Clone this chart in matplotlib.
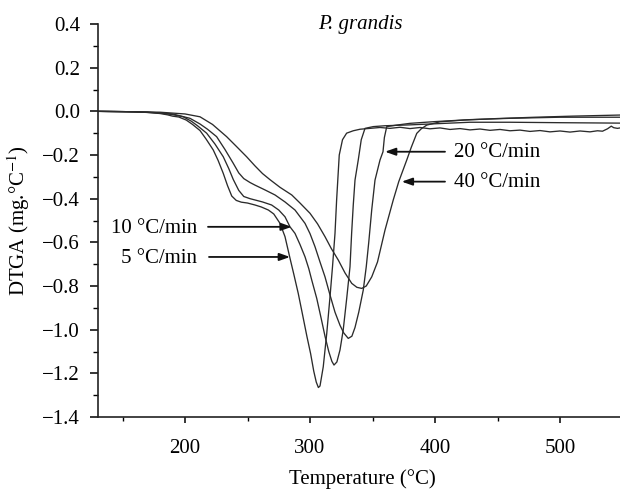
import matplotlib
matplotlib.use("Agg")
import matplotlib.pyplot as plt
from matplotlib.ticker import MultipleLocator, FixedLocator

plt.rcParams['font.family'] = ['Liberation Serif', 'DejaVu Serif']
plt.rcParams['mathtext.fontset'] = 'stix'
plt.rcParams['axes.unicode_minus'] = True

# ---- data ----
T5 = [130, 150, 170, 180, 186, 190, 195, 201, 206, 212, 217, 222.6, 226.5, 230.6, 234, 237.4,
      241, 245, 250, 256, 261, 266.7, 271, 276, 280, 284, 287, 290.6, 294, 297.5, 300.5, 303,
      305, 306.7, 308, 310.6, 313.4, 316, 318, 320, 321.3, 323.4, 326, 329.3, 334.6, 340,
      348, 356, 364, 372, 380, 388, 396, 404, 412, 420, 428, 436, 444, 452, 460, 468, 476,
      484, 492, 500, 508, 516, 524, 530, 534, 538, 541, 543, 546, 548]
D5 = [0.000, -0.001, -0.005, -0.010, -0.016, -0.022, -0.026, -0.040, -0.060, -0.088, -0.128,
      -0.177, -0.225, -0.284, -0.340, -0.388, -0.408, -0.416, -0.420, -0.429, -0.438, -0.452,
      -0.470, -0.513, -0.574, -0.673, -0.745, -0.834, -0.930, -1.030, -1.110, -1.190, -1.240,
      -1.265, -1.258, -1.170, -1.017, -0.850, -0.712, -0.559, -0.406, -0.200, -0.130, -0.100,
      -0.089, -0.082, -0.078, -0.074, -0.078, -0.073, -0.079, -0.074, -0.080, -0.076, -0.083,
      -0.079, -0.085, -0.081, -0.087, -0.083, -0.089, -0.086, -0.092, -0.088, -0.094, -0.090,
      -0.095, -0.090, -0.094, -0.089, -0.091, -0.080, -0.068, -0.075, -0.078, -0.076]

T10 = [130, 160, 180, 190, 198.6, 205, 210, 217.3, 224, 230.6, 235, 238.6, 243, 247, 252, 256,
       262, 269.3, 275, 280, 284, 288, 292, 296, 299, 301.4, 305.4, 309, 312, 315, 317.5,
       319.2, 321.5, 324, 326.6, 329.4, 332, 333.3, 334.6, 336, 338.6, 341, 344, 350.6, 360,
       370, 380, 396, 412, 428, 460, 500, 548]
D10 = [0.000, -0.002, -0.008, -0.015, -0.025, -0.045, -0.066, -0.100, -0.150, -0.208, -0.262,
       -0.312, -0.362, -0.390, -0.400, -0.406, -0.415, -0.429, -0.452, -0.483, -0.529, -0.559,
       -0.610, -0.666, -0.720, -0.773, -0.857, -0.950, -1.030, -1.100, -1.145, -1.162, -1.148,
       -1.093, -1.000, -0.855, -0.712, -0.559, -0.430, -0.315, -0.223, -0.130, -0.078, -0.070,
       -0.066, -0.064, -0.062, -0.058, -0.054, -0.050, -0.050, -0.052, -0.054]

T20 = [130, 170, 190, 204, 212, 218, 225.3, 232, 238.6, 243, 247, 252, 256, 264, 272, 280,
       288, 296, 300, 304, 308, 312, 316, 320, 324, 327, 330.6, 333.5, 336, 339, 342.6, 345,
       347, 349.4, 352, 356, 358.4, 359.5, 361.4, 369.4, 380, 400, 428, 460, 500, 548]
D20 = [0.000, -0.003, -0.012, -0.032, -0.058, -0.082, -0.116, -0.175, -0.238, -0.282, -0.308,
       -0.326, -0.338, -0.360, -0.383, -0.415, -0.452, -0.513, -0.560, -0.620, -0.690, -0.758,
       -0.841, -0.920, -0.980, -1.015, -1.040, -1.030, -0.990, -0.920, -0.819, -0.712, -0.600,
       -0.450, -0.315, -0.223, -0.185, -0.120, -0.070, -0.063, -0.055, -0.047, -0.038, -0.032,
       -0.027, -0.027]

T40 = [130, 180, 200, 212, 222, 233.3, 241, 249.3, 256, 262, 268, 276, 285.4, 292, 300, 306,
       312, 317, 322.6, 328, 333.4, 337.5, 341.4, 345, 349.4, 354, 360, 366.6, 371, 377.4, 381,
       385.4, 389, 393.4, 404, 423, 450, 480, 510, 548]
D40 = [0.000, -0.004, -0.012, -0.025, -0.060, -0.116, -0.160, -0.208, -0.250, -0.285, -0.313,
       -0.348, -0.383, -0.420, -0.467, -0.515, -0.574, -0.628, -0.681, -0.740, -0.788, -0.806,
       -0.811, -0.800, -0.758, -0.690, -0.544, -0.406, -0.322, -0.223, -0.165, -0.101, -0.080,
       -0.063, -0.048, -0.040, -0.033, -0.027, -0.022, -0.017]

labels = ["5 °C/min", "10 °C/min", "20 °C/min", "40 °C/min"]
title = "P. grandis"
xlabel = "Temperature (°C)"
ylabel = "DTGA (mg.°C$^{-1}$)"
xticks = [200, 300, 400, 500]
yticks = [-1.4, -1.2, -1.0, -0.8, -0.6, -0.4, -0.2, 0.0, 0.2, 0.4]

# ---- figure ----
fig = plt.figure(figsize=(6.2, 4.91), dpi=100)
ax = fig.add_axes([98 / 620, 1 - 417 / 491, 522 / 620, 393 / 491])

lc = '#2b2b2b'
for T, D in [(T5, D5), (T10, D10), (T20, D20), (T40, D40)]:
    ax.plot(T, D, color=lc, lw=0.95)

ax.set_xlim(130.4, 548)
ax.set_ylim(-1.4, 0.4)
ax.xaxis.set_major_locator(FixedLocator(xticks))
ax.xaxis.set_minor_locator(FixedLocator([150, 250, 350, 450]))
ax.yaxis.set_major_locator(FixedLocator(yticks))
ax.yaxis.set_minor_locator(MultipleLocator(0.1))
ax.set_yticklabels([f"{v:.1f}".replace('-', '\u2212') for v in yticks])

for s in ['top', 'right']:
    ax.spines[s].set_visible(False)
for s in ['left', 'bottom']:
    ax.spines[s].set_linewidth(1.2)
    ax.spines[s].set_color('#222222')

ax.tick_params(axis='y', which='major', length=6, width=1.1, pad=7, labelsize=15, direction='out')
ax.tick_params(axis='y', which='minor', length=3.5, width=1.0, direction='out')
ax.tick_params(axis='x', which='major', length=4, width=1.1, pad=12, labelsize=15, direction='out')
ax.tick_params(axis='x', which='minor', length=3, width=1.0, direction='out')

ax.set_xlabel(xlabel, fontsize=15, va='center')
ax.xaxis.set_label_coords(0.506, -0.158)
ax.set_ylabel(ylabel, fontsize=15, va='center')
ax.yaxis.set_label_coords(-0.152, 0.5)

ax.text(340, 0.40, title, fontsize=15, style='italic', ha='center', va='center')

arrow_kw = dict(arrowstyle='-|>,head_length=0.45,head_width=0.16', color='#111111', lw=1.3,
                mutation_scale=14, shrinkA=0, shrinkB=0)
# 10 and 5 (left side, arrow pointing right)
ax.text(209.6, -0.535, labels[1], fontsize=15, ha='right', va='center')
ax.annotate('', xy=(285.4, -0.529), xytext=(218.4, -0.529), arrowprops=arrow_kw)
ax.text(209.6, -0.672, labels[0], fontsize=15, ha='right', va='center')
ax.annotate('', xy=(284.0, -0.667), xytext=(219.2, -0.667), arrowprops=arrow_kw)
# 20 and 40 (right side, arrow pointing left)
ax.text(415.2, -0.188, labels[2], fontsize=15, ha='left', va='center')
ax.annotate('', xy=(360.0, -0.185), xytext=(408.0, -0.185), arrowprops=arrow_kw)
ax.text(415.2, -0.325, labels[3], fontsize=15, ha='left', va='center')
ax.annotate('', xy=(373.4, -0.322), xytext=(408.0, -0.322), arrowprops=arrow_kw)

fig.savefig("out.png", dpi=100)
